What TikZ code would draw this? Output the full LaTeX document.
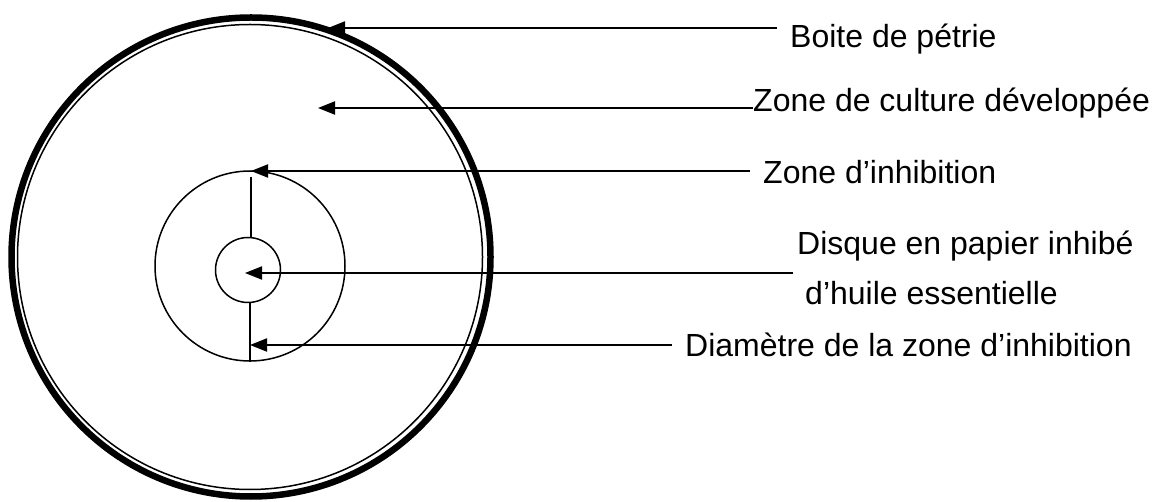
\documentclass[tikz,border=0pt]{standalone}
\usepackage{fontspec}
\setmainfont{Liberation Sans}
\usetikzlibrary{arrows.meta}
\tikzset{
	label_text/.style={
		anchor=base west, inner sep=0pt,
		font=\fontsize{32}{38}\selectfont
	},
	pointer/.style={-{Triangle[length=17pt,width=13pt]}, line width=2pt},
	thin_line/.style={line width=1.5pt}
}

\begin{document}
\begin{tikzpicture}[x=1pt,y=-1pt]
	\useasboundingbox (0,0) rectangle (1154,502);
	% boite de petri
	\draw[line width=6.5pt] (251,257) circle (239.5pt);
	\draw[thin_line] (250,257) circle (232.5pt);
	% zone d'inhibition et disque
	\draw[thin_line] (250,266) circle (95pt);
	\node[circle, draw, thin_line, minimum size=65pt, inner sep=0pt] (disque) at (248,270) {};
	\coordinate (diam_top) at (251,177);
	\coordinate (diam_bot) at (250,362);
	\draw[thin_line] (diam_top) -- (diam_top |- disque.north);
	\draw[thin_line] (diam_bot |- disque.south) -- (diam_bot);
	% labels
	\node[label_text] (boite) at (790,48) {Boite de pétrie};
	\node[label_text] (culture) at (753,112) {Zone de culture développée};
	\node[label_text] (inhib) at (763,184) {Zone d’inhibition};
	\node[label_text] (papier) at (797,255) {Disque en papier inhibé};
	\node[label_text] (huile) at (805,305) {d’huile essentielle};
	\node[label_text] (diametre) at (685,357) {Diamètre de la zone d’inhibition};
	% arrow tips
	\coordinate (t_boite) at (328,28);
	\coordinate (t_culture) at (318,108);
	\coordinate (t_inhib) at (251,171);
	\coordinate (t_disque) at (245,273);
	\coordinate (t_diam) at (250,345);
	\draw[pointer] (boite.west |- t_boite) ++(-13,0) -- (t_boite);
	\draw[pointer] (culture.west |- t_culture) -- (t_culture);
	\draw[pointer] (inhib.west |- t_inhib) ++(-13,0) -- (t_inhib);
	\draw[pointer] (papier.west |- t_disque) ++(-4,0) -- (t_disque);
	\draw[pointer] (diametre.west |- t_diam) ++(-13,0) -- (t_diam);
\end{tikzpicture}
\end{document}
